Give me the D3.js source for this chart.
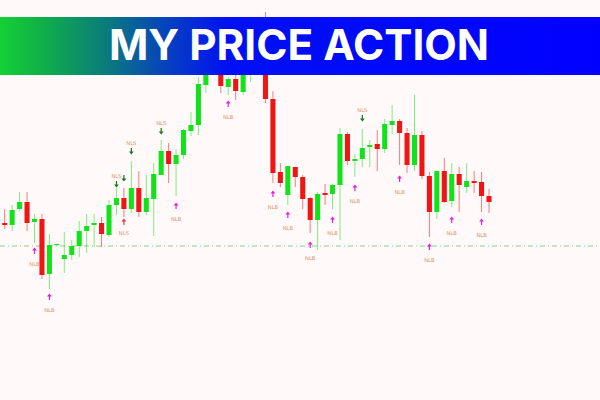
<!DOCTYPE html>
<html><head><meta charset="utf-8">
<script src="https://cdn.jsdelivr.net/npm/d3@7"></script>
<style>html,body{margin:0;padding:0;background:#fffaf9;}svg{display:block}</style>
</head><body><svg id="chart" width="600" height="400"></svg>
<script>
const opens  = [1.2077,1.2075,1.2091,1.2098,1.2078,1.2081,1.2026,1.2055,1.2041,1.2045,1.2054,1.2069,1.2075,1.2077,1.2065,1.2095,1.2102,1.2091,1.2112,1.2088,1.2101,1.2125,1.2149,1.2136,1.2145,1.2169,1.2175,1.2215,1.2230,1.2232,1.2213,1.2221,1.2208,1.2232,1.2240,1.2265,1.2201,1.2128,1.2105,1.2133,1.2123,1.2102,1.2080,1.2107,1.2106,1.2115,1.2166,1.2139,1.2141,1.2153,1.2156,1.2151,1.2175,1.2179,1.2167,1.2135,1.2165,1.2124,1.2088,1.2129,1.2099,1.2126,1.2113,1.2119,1.2118,1.2104];
const highs  = [1.2091,1.2095,1.2108,1.2108,1.2086,1.2086,1.2066,1.2056,1.2068,1.2060,1.2079,1.2086,1.2086,1.2083,1.2100,1.2112,1.2112,1.2139,1.2129,1.2125,1.2137,1.2160,1.2157,1.2151,1.2171,1.2188,1.2223,1.2240,1.2255,1.2242,1.2223,1.2225,1.2240,1.2252,1.2270,1.2288,1.2209,1.2137,1.2134,1.2133,1.2125,1.2103,1.2108,1.2116,1.2116,1.2172,1.2168,1.2146,1.2171,1.2160,1.2170,1.2181,1.2195,1.2181,1.2172,1.2205,1.2169,1.2128,1.2129,1.2142,1.2137,1.2133,1.2137,1.2129,1.2128,1.2111];
const lows   = [1.2071,1.2069,1.2089,1.2069,1.2057,1.2021,1.2011,1.2055,1.2027,1.2040,1.2043,1.2047,1.2053,1.2053,1.2063,1.2085,1.2083,1.2087,1.2083,1.2085,1.2064,1.2125,1.2117,1.2104,1.2141,1.2164,1.2165,1.2207,1.2228,1.2207,1.2205,1.2200,1.2205,1.2218,1.2228,1.2197,1.2117,1.2113,1.2095,1.2113,1.2091,1.2067,1.2050,1.2095,1.2091,1.2060,1.2135,1.2123,1.2133,1.2133,1.2129,1.2147,1.2166,1.2135,1.2127,1.2129,1.2121,1.2063,1.2081,1.2097,1.2093,1.2088,1.2107,1.2107,1.2088,1.2087];
const closes = [1.2075,1.2090,1.2098,1.2077,1.2081,1.2025,1.2055,1.2056,1.2045,1.2054,1.2069,1.2074,1.2077,1.2066,1.2095,1.2102,1.2091,1.2112,1.2088,1.2102,1.2126,1.2149,1.2136,1.2145,1.2170,1.2175,1.2216,1.2232,1.2245,1.2214,1.2221,1.2209,1.2232,1.2242,1.2260,1.2201,1.2127,1.2117,1.2134,1.2123,1.2101,1.2080,1.2106,1.2105,1.2115,1.2166,1.2139,1.2141,1.2152,1.2155,1.2151,1.2176,1.2179,1.2167,1.2135,1.2165,1.2124,1.2088,1.2129,1.2098,1.2126,1.2115,1.2119,1.2117,1.2104,1.2098];

// NLB signals (magenta up arrows)
const buyIdx   = [4,6,23,30,36,38,41,44,47,53,57,60,64];
const buyLevel = [1.2049,1.2003,1.2094,1.2196,1.2106,1.2085,1.2055,1.2080,1.2112,1.2121,1.2053,1.2080,1.2078];
const buyText  = "NLB";
// NLS signals (green down arrows)
const sellIdx   = [15,16,17,21,48];
const sellLevel = [1.2116,1.2122,1.2149,1.2169,1.2182];
const sellText  = ["NLS","","NLS","NLS","NLS"];
// red up arrow with NLS label
const altIdx   = [16];
const altLevel = [1.2078];
const altText  = "NLS";
const refLevel = 1.2054;
const title = "MY PRICE ACTION";

const W = 600, H = 400;
const svg = d3.select("#chart");
svg.append("rect").attr("width", W).attr("height", H).attr("fill", "#fffaf9");

const idx = d3.range(opens.length);
const x = d3.scalePoint().domain(idx).range([4.7, 489]);
const y = d3.scaleLinear().domain([1.20, 1.23]).range([300, 0]);
const bw = x.step() * 0.68;

const GREEN = "#12e21a", RED = "#f01414";

// reference dash-dot line
svg.append("line")
  .attr("x1", 0).attr("x2", W)
  .attr("y1", y(refLevel)).attr("y2", y(refLevel))
  .attr("stroke", "#5cc85c").attr("stroke-width", 1)
  .attr("stroke-dasharray", "5,3,1,3").attr("opacity", 0.75);

const candles = idx.map(i => ({i, o: opens[i], h: highs[i], l: lows[i], c: closes[i]}));

svg.append("g").selectAll("line").data(candles).join("line")
  .attr("x1", d => x(d.i)).attr("x2", d => x(d.i))
  .attr("y1", d => y(d.h)).attr("y2", d => y(d.l))
  .attr("stroke", d => d.c >= d.o ? GREEN : RED)
  .attr("stroke-opacity", 0.55).attr("stroke-width", 1);

svg.append("g").selectAll("rect").data(candles).join("rect")
  .attr("x", d => x(d.i) - bw / 2).attr("width", bw)
  .attr("y", d => y(Math.max(d.o, d.c)))
  .attr("height", d => Math.max(1.2, Math.abs(y(d.o) - y(d.c))))
  .attr("fill", d => d.c >= d.o ? GREEN : RED);

function upArrow(g, cx, cy, col) {
  g.append("path").attr("d", `M${cx},${cy-3.5}L${cx-2.4},${cy-0.6}L${cx+2.4},${cy-0.6}Z`).attr("fill", col);
  g.append("line").attr("x1", cx).attr("x2", cx).attr("y1", cy - 1).attr("y2", cy + 3)
    .attr("stroke", col).attr("stroke-width", 1.2);
}
function downArrow(g, cx, cy, col) {
  g.append("path").attr("d", `M${cx},${cy+3.5}L${cx-2.4},${cy+0.6}L${cx+2.4},${cy+0.6}Z`).attr("fill", col);
  g.append("line").attr("x1", cx).attr("x2", cx).attr("y1", cy - 3).attr("y2", cy + 1)
    .attr("stroke", col).attr("stroke-width", 1.2);
}
const mk = svg.append("g");
const LBL = "#dc9060";
function label(cx, cy, t) {
  if (!t) return;
  mk.append("text").attr("x", cx).attr("y", cy).attr("text-anchor", "middle")
    .attr("font-family", "DejaVu Sans, sans-serif").attr("font-size", 5.2)
    .attr("fill", LBL).text(t);
}
buyIdx.forEach((bi, k) => {
  const cx = x(bi), cy = y(buyLevel[k]);
  upArrow(mk, cx, cy, "#e21ee2");
  label(cx, cy + 14.5, buyText);
});
sellIdx.forEach((si, k) => {
  const cx = x(si), cy = y(sellLevel[k]);
  downArrow(mk, cx, cy, "#127a1a");
  label(cx, cy - 6.5, sellText[k]);
});
altIdx.forEach((ai, k) => {
  const cx = x(ai), cy = y(altLevel[k]);
  upArrow(mk, cx, cy, "#e8384a");
  label(cx, cy + 13, altText);
});

// banner
const defs = svg.append("defs");
const gr = defs.append("linearGradient").attr("id", "bg").attr("x1", "0").attr("x2", "1").attr("y1", "0").attr("y2", "0");
[[0, "#14d034"], [0.07, "#10b048"], [0.18, "#0a7a7e"], [0.28, "#0640c0"], [0.38, "#0010f4"], [1, "#0000ff"]]
  .forEach(([o, c]) => gr.append("stop").attr("offset", o).attr("stop-color", c));
svg.append("rect").attr("x", 0).attr("y", 17).attr("width", W).attr("height", 58).attr("fill", "url(#bg)");
svg.append("text").attr("x", 299).attr("y", 60)
  .attr("text-anchor", "middle")
  .attr("font-family", "Inter, 'Open Sans', sans-serif").attr("font-weight", 700)
  .attr("font-size", 43).attr("fill", "#ffffff")
  .attr("textLength", 380).attr("lengthAdjust", "spacingAndGlyphs")
  .text(title);
</script></body></html>
